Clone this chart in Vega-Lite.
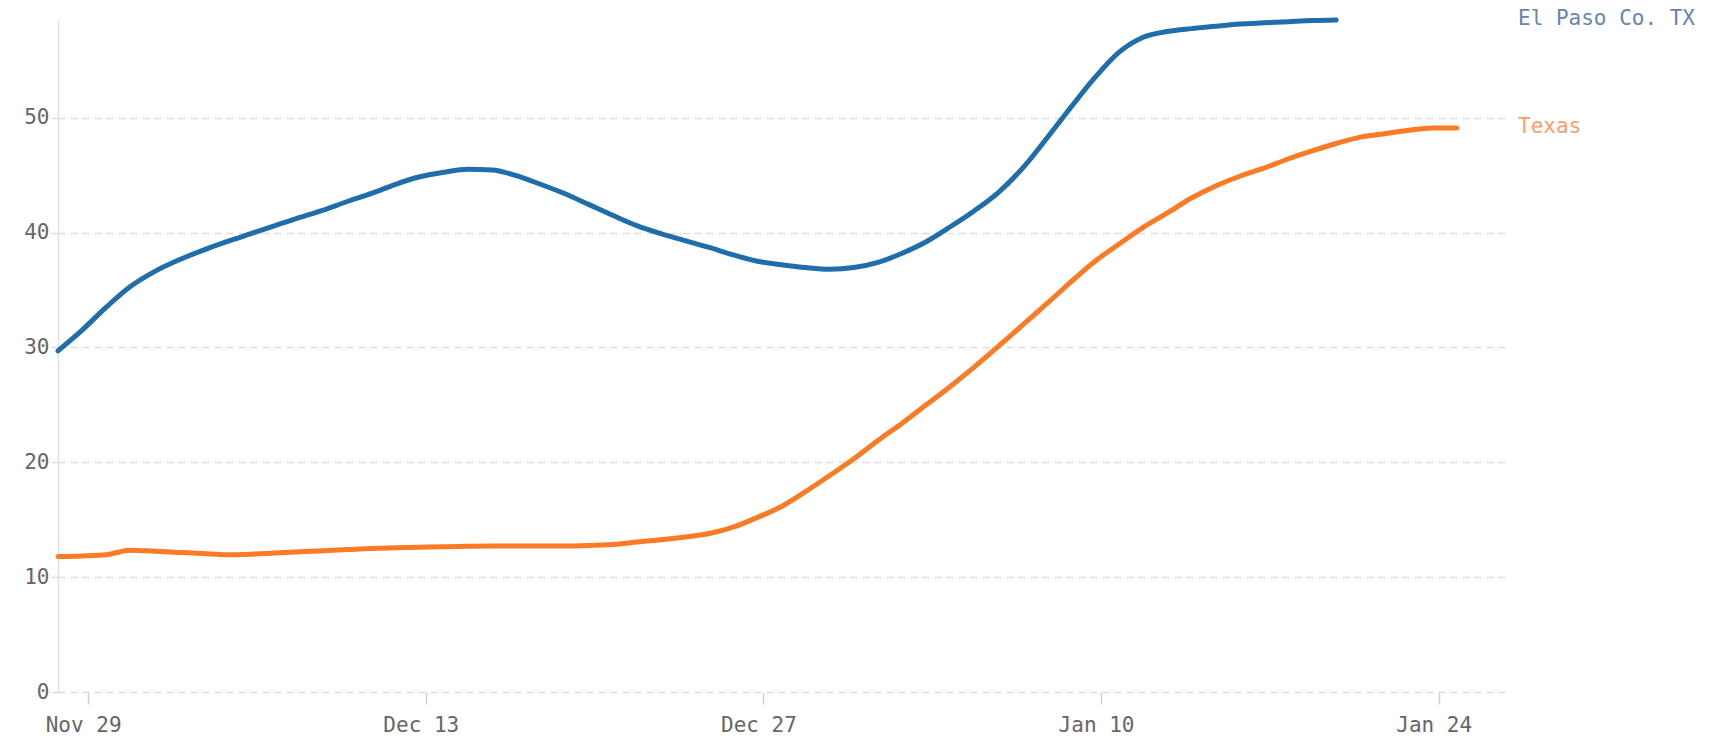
{
  "$schema": "https://vega.github.io/schema/vega-lite/v6.json",
  "width": 1447,
  "height": 672,
  "autosize": {"type": "none"},
  "padding": {"left": 58, "top": 20, "right": 220, "bottom": 52},
  "background": "white",
  "config": {"view": {"stroke": null}},
  "datasets": {
    "series": [
      {"series": "El Paso Co. TX", "date": "2020-11-27T18:00:00", "value": 29.7},
      {"series": "El Paso Co. TX", "date": "2020-11-28T18:00:00", "value": 31.5},
      {"series": "El Paso Co. TX", "date": "2020-11-29T18:00:00", "value": 33.5},
      {"series": "El Paso Co. TX", "date": "2020-11-30T18:00:00", "value": 35.3},
      {"series": "El Paso Co. TX", "date": "2020-12-01T18:00:00", "value": 36.6},
      {"series": "El Paso Co. TX", "date": "2020-12-02T18:00:00", "value": 37.6},
      {"series": "El Paso Co. TX", "date": "2020-12-03T18:00:00", "value": 38.45},
      {"series": "El Paso Co. TX", "date": "2020-12-04T18:00:00", "value": 39.2},
      {"series": "El Paso Co. TX", "date": "2020-12-05T18:00:00", "value": 39.9},
      {"series": "El Paso Co. TX", "date": "2020-12-06T18:00:00", "value": 40.6},
      {"series": "El Paso Co. TX", "date": "2020-12-07T18:00:00", "value": 41.3},
      {"series": "El Paso Co. TX", "date": "2020-12-08T18:00:00", "value": 41.95},
      {"series": "El Paso Co. TX", "date": "2020-12-09T18:00:00", "value": 42.7},
      {"series": "El Paso Co. TX", "date": "2020-12-10T18:00:00", "value": 43.4},
      {"series": "El Paso Co. TX", "date": "2020-12-11T18:00:00", "value": 44.2},
      {"series": "El Paso Co. TX", "date": "2020-12-12T18:00:00", "value": 44.85},
      {"series": "El Paso Co. TX", "date": "2020-12-13T18:00:00", "value": 45.25},
      {"series": "El Paso Co. TX", "date": "2020-12-14T18:00:00", "value": 45.5},
      {"series": "El Paso Co. TX", "date": "2020-12-15T18:00:00", "value": 45.45},
      {"series": "El Paso Co. TX", "date": "2020-12-16T18:00:00", "value": 44.95},
      {"series": "El Paso Co. TX", "date": "2020-12-17T18:00:00", "value": 44.2},
      {"series": "El Paso Co. TX", "date": "2020-12-18T18:00:00", "value": 43.4},
      {"series": "El Paso Co. TX", "date": "2020-12-19T18:00:00", "value": 42.45},
      {"series": "El Paso Co. TX", "date": "2020-12-20T18:00:00", "value": 41.5},
      {"series": "El Paso Co. TX", "date": "2020-12-21T18:00:00", "value": 40.6},
      {"series": "El Paso Co. TX", "date": "2020-12-22T18:00:00", "value": 39.9},
      {"series": "El Paso Co. TX", "date": "2020-12-23T18:00:00", "value": 39.3},
      {"series": "El Paso Co. TX", "date": "2020-12-24T18:00:00", "value": 38.7},
      {"series": "El Paso Co. TX", "date": "2020-12-25T18:00:00", "value": 38.05},
      {"series": "El Paso Co. TX", "date": "2020-12-26T18:00:00", "value": 37.5},
      {"series": "El Paso Co. TX", "date": "2020-12-27T18:00:00", "value": 37.2},
      {"series": "El Paso Co. TX", "date": "2020-12-28T18:00:00", "value": 36.95},
      {"series": "El Paso Co. TX", "date": "2020-12-29T18:00:00", "value": 36.8},
      {"series": "El Paso Co. TX", "date": "2020-12-30T18:00:00", "value": 36.95},
      {"series": "El Paso Co. TX", "date": "2020-12-31T18:00:00", "value": 37.4},
      {"series": "El Paso Co. TX", "date": "2021-01-01T18:00:00", "value": 38.2},
      {"series": "El Paso Co. TX", "date": "2021-01-02T18:00:00", "value": 39.2},
      {"series": "El Paso Co. TX", "date": "2021-01-03T18:00:00", "value": 40.5},
      {"series": "El Paso Co. TX", "date": "2021-01-04T18:00:00", "value": 41.9},
      {"series": "El Paso Co. TX", "date": "2021-01-05T18:00:00", "value": 43.5},
      {"series": "El Paso Co. TX", "date": "2021-01-06T18:00:00", "value": 45.6},
      {"series": "El Paso Co. TX", "date": "2021-01-07T18:00:00", "value": 48.2},
      {"series": "El Paso Co. TX", "date": "2021-01-08T18:00:00", "value": 50.9},
      {"series": "El Paso Co. TX", "date": "2021-01-09T18:00:00", "value": 53.5},
      {"series": "El Paso Co. TX", "date": "2021-01-10T18:00:00", "value": 55.7},
      {"series": "El Paso Co. TX", "date": "2021-01-11T18:00:00", "value": 57.0},
      {"series": "El Paso Co. TX", "date": "2021-01-12T18:00:00", "value": 57.5},
      {"series": "El Paso Co. TX", "date": "2021-01-13T18:00:00", "value": 57.75},
      {"series": "El Paso Co. TX", "date": "2021-01-14T18:00:00", "value": 57.95},
      {"series": "El Paso Co. TX", "date": "2021-01-15T18:00:00", "value": 58.15},
      {"series": "El Paso Co. TX", "date": "2021-01-16T18:00:00", "value": 58.25},
      {"series": "El Paso Co. TX", "date": "2021-01-17T18:00:00", "value": 58.35},
      {"series": "El Paso Co. TX", "date": "2021-01-18T18:00:00", "value": 58.45},
      {"series": "El Paso Co. TX", "date": "2021-01-19T18:00:00", "value": 58.5},
      {"series": "Texas", "date": "2020-11-27T18:00:00", "value": 11.8},
      {"series": "Texas", "date": "2020-11-28T18:00:00", "value": 11.85},
      {"series": "Texas", "date": "2020-11-29T18:00:00", "value": 11.95},
      {"series": "Texas", "date": "2020-11-30T18:00:00", "value": 12.35},
      {"series": "Texas", "date": "2020-12-01T18:00:00", "value": 12.25},
      {"series": "Texas", "date": "2020-12-02T18:00:00", "value": 12.15},
      {"series": "Texas", "date": "2020-12-03T18:00:00", "value": 12.05},
      {"series": "Texas", "date": "2020-12-04T18:00:00", "value": 11.95},
      {"series": "Texas", "date": "2020-12-05T18:00:00", "value": 12.0},
      {"series": "Texas", "date": "2020-12-06T18:00:00", "value": 12.1},
      {"series": "Texas", "date": "2020-12-07T18:00:00", "value": 12.2},
      {"series": "Texas", "date": "2020-12-08T18:00:00", "value": 12.3},
      {"series": "Texas", "date": "2020-12-09T18:00:00", "value": 12.4},
      {"series": "Texas", "date": "2020-12-10T18:00:00", "value": 12.5},
      {"series": "Texas", "date": "2020-12-11T18:00:00", "value": 12.55},
      {"series": "Texas", "date": "2020-12-12T18:00:00", "value": 12.6},
      {"series": "Texas", "date": "2020-12-13T18:00:00", "value": 12.65},
      {"series": "Texas", "date": "2020-12-14T18:00:00", "value": 12.68},
      {"series": "Texas", "date": "2020-12-15T18:00:00", "value": 12.7},
      {"series": "Texas", "date": "2020-12-16T18:00:00", "value": 12.7},
      {"series": "Texas", "date": "2020-12-17T18:00:00", "value": 12.7},
      {"series": "Texas", "date": "2020-12-18T18:00:00", "value": 12.7},
      {"series": "Texas", "date": "2020-12-19T18:00:00", "value": 12.75},
      {"series": "Texas", "date": "2020-12-20T18:00:00", "value": 12.85},
      {"series": "Texas", "date": "2020-12-21T18:00:00", "value": 13.05},
      {"series": "Texas", "date": "2020-12-22T18:00:00", "value": 13.25},
      {"series": "Texas", "date": "2020-12-23T18:00:00", "value": 13.5},
      {"series": "Texas", "date": "2020-12-24T18:00:00", "value": 13.8},
      {"series": "Texas", "date": "2020-12-25T18:00:00", "value": 14.35},
      {"series": "Texas", "date": "2020-12-26T18:00:00", "value": 15.2},
      {"series": "Texas", "date": "2020-12-27T18:00:00", "value": 16.15},
      {"series": "Texas", "date": "2020-12-28T18:00:00", "value": 17.45},
      {"series": "Texas", "date": "2020-12-29T18:00:00", "value": 18.85},
      {"series": "Texas", "date": "2020-12-30T18:00:00", "value": 20.3},
      {"series": "Texas", "date": "2020-12-31T18:00:00", "value": 21.9},
      {"series": "Texas", "date": "2021-01-01T18:00:00", "value": 23.4},
      {"series": "Texas", "date": "2021-01-02T18:00:00", "value": 25.0},
      {"series": "Texas", "date": "2021-01-03T18:00:00", "value": 26.6},
      {"series": "Texas", "date": "2021-01-04T18:00:00", "value": 28.3},
      {"series": "Texas", "date": "2021-01-05T18:00:00", "value": 30.1},
      {"series": "Texas", "date": "2021-01-06T18:00:00", "value": 31.95},
      {"series": "Texas", "date": "2021-01-07T18:00:00", "value": 33.8},
      {"series": "Texas", "date": "2021-01-08T18:00:00", "value": 35.7},
      {"series": "Texas", "date": "2021-01-09T18:00:00", "value": 37.5},
      {"series": "Texas", "date": "2021-01-10T18:00:00", "value": 39.0},
      {"series": "Texas", "date": "2021-01-11T18:00:00", "value": 40.45},
      {"series": "Texas", "date": "2021-01-12T18:00:00", "value": 41.7},
      {"series": "Texas", "date": "2021-01-13T18:00:00", "value": 43.0},
      {"series": "Texas", "date": "2021-01-14T18:00:00", "value": 44.05},
      {"series": "Texas", "date": "2021-01-15T18:00:00", "value": 44.9},
      {"series": "Texas", "date": "2021-01-16T18:00:00", "value": 45.6},
      {"series": "Texas", "date": "2021-01-17T18:00:00", "value": 46.4},
      {"series": "Texas", "date": "2021-01-18T18:00:00", "value": 47.1},
      {"series": "Texas", "date": "2021-01-19T18:00:00", "value": 47.75},
      {"series": "Texas", "date": "2021-01-20T18:00:00", "value": 48.3},
      {"series": "Texas", "date": "2021-01-21T18:00:00", "value": 48.6},
      {"series": "Texas", "date": "2021-01-22T18:00:00", "value": 48.9},
      {"series": "Texas", "date": "2021-01-23T18:00:00", "value": 49.1},
      {"series": "Texas", "date": "2021-01-24T18:00:00", "value": 49.1}
    ]
  },
  "data": {"name": "series"},
  "encoding": {
    "x": {
      "field": "date",
      "type": "temporal",
      "scale": {
        "domain": [
          {"year": 2020, "month": 11, "date": 27, "hours": 18},
          {"year": 2021, "month": 1, "date": 26, "hours": 18}
        ]
      },
      "axis": {
        "title": null,
        "format": "%b %d",
        "values": [
          {"year": 2020, "month": 11, "date": 29},
          {"year": 2020, "month": 12, "date": 13},
          {"year": 2020, "month": 12, "date": 27},
          {"year": 2021, "month": 1, "date": 10},
          {"year": 2021, "month": 1, "date": 24}
        ],
        "grid": false,
        "domain": false,
        "ticks": true,
        "tickSize": 12,
        "tickColor": "#d0d0d0",
        "tickWidth": 1.5,
        "labelFont": "DejaVu Sans Mono",
        "labelFontSize": 21,
        "labelColor": "#666666",
        "labelPadding": 10,
        "labelOffset": -5
      }
    },
    "y": {
      "field": "value",
      "type": "quantitative",
      "scale": {"domain": [0, 58.5], "nice": false, "zero": true},
      "axis": {
        "title": null,
        "values": [0, 10, 20, 30, 40, 50],
        "grid": true,
        "gridColor": "#dddddd",
        "gridDash": [7, 5],
        "gridWidth": 1.5,
        "domain": true,
        "domainColor": "#e2e2e2",
        "domainWidth": 1.5,
        "ticks": true,
        "tickSize": 8,
        "tickColor": "#dddddd",
        "tickDash": [7, 5],
        "tickWidth": 1.5,
        "labelFont": "DejaVu Sans Mono",
        "labelFontSize": 21,
        "labelColor": "#666666",
        "labelPadding": 1
      }
    }
  },
  "layer": [
    {
      "mark": {"type": "line", "strokeWidth": 5, "interpolate": "monotone", "strokeCap": "round"},
      "encoding": {
        "color": {
          "field": "series",
          "type": "nominal",
          "scale": {"domain": ["El Paso Co. TX", "Texas"], "range": ["#1f6dab", "#fb7a24"]},
          "legend": null
        }
      }
    },
    {
      "transform": [
        {"window": [{"op": "row_number", "as": "rn"}], "groupby": ["series"], "sort": [{"field": "date", "order": "descending"}]},
        {"filter": "datum.rn === 1"}
      ],
      "mark": {"type": "text", "align": "left", "baseline": "middle", "dx": 13, "dy": -1, "font": "DejaVu Sans Mono", "fontSize": 21},
      "encoding": {
        "x": {"datum": {"year": 2021, "month": 1, "date": 26, "hours": 18}, "type": "temporal"},
        "text": {"field": "series"},
        "color": {
          "condition": {"test": "datum.series === 'Texas'", "value": "#f99e6c"},
          "value": "#6683b5"
        }
      }
    }
  ]
}
